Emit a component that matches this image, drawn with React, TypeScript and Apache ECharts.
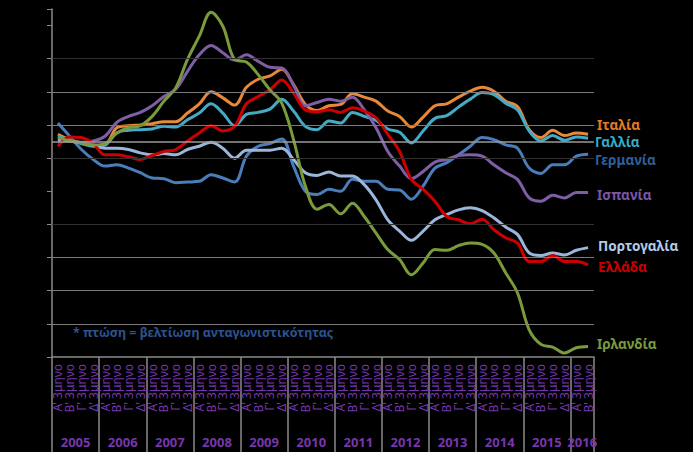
import React, { useEffect, useRef } from "react";
import * as echarts from "echarts";

const quarterNames = ["Α' 3μηνο", "Β' 3μηνο", "Γ' 3μηνο", "Δ' 3μηνο"];
const years = ["2005", "2006", "2007", "2008", "2009", "2010", "2011", "2012", "2013", "2014", "2015", "2016"];
const quartersPerYear = [4, 4, 4, 4, 4, 4, 4, 4, 4, 4, 4, 2];

const italy = [101.1, 100.3, 99.8, 99.4, 99.5, 102.1, 102.4, 102.5, 102.7, 103.0, 103.0, 104.3, 105.7, 107.5, 106.6, 105.5, 108.2, 109.4, 109.9, 110.9, 108.6, 105.6, 104.7, 105.4, 105.6, 107.2, 106.7, 106.1, 104.6, 103.8, 102.2, 103.7, 105.4, 105.7, 106.7, 107.6, 108.2, 107.6, 106.1, 105.3, 101.8, 100.6, 101.7, 100.9, 101.3, 101.1];
const france = [100.8, 100.2, 99.7, 99.3, 99.5, 101.3, 101.7, 101.8, 101.9, 102.3, 102.2, 103.3, 104.3, 105.7, 104.3, 102.4, 104.1, 104.4, 104.9, 106.4, 104.6, 102.3, 101.8, 103.1, 102.8, 104.4, 103.8, 103.2, 101.9, 101.4, 99.8, 101.6, 103.5, 103.9, 105.2, 106.4, 107.4, 107.1, 105.8, 104.8, 101.6, 100.1, 100.9, 100.2, 100.7, 100.5];
const germany = [102.8, 100.8, 98.8, 97.3, 96.3, 96.5, 96.0, 95.3, 94.5, 94.4, 93.8, 93.9, 94.0, 95.0, 94.5, 93.9, 97.8, 99.3, 99.7, 100.4, 96.3, 92.5, 92.0, 92.8, 92.5, 94.3, 94.0, 94.0, 92.8, 92.7, 91.3, 93.3, 96.0, 96.8, 98.0, 99.3, 100.6, 100.3, 99.5, 99.0, 96.0, 95.2, 96.5, 96.5, 97.8, 98.1];
const spain = [99.9, 100.1, 99.9, 100.1, 100.8, 102.9, 103.8, 104.4, 105.4, 106.8, 107.9, 110.6, 113.1, 114.5, 113.4, 112.3, 113.1, 112.1, 111.2, 111.1, 108.5, 105.4, 105.9, 106.4, 106.1, 106.7, 104.8, 102.1, 98.5, 96.3, 94.4, 95.5, 96.9, 97.3, 97.9, 98.0, 97.8, 96.5, 95.3, 94.3, 91.5, 91.0, 91.9, 91.5, 92.3, 92.3];
const portugal = [100.3, 100.1, 99.8, 99.4, 99.0, 99.0, 98.8, 98.3, 98.0, 98.2, 98.0, 98.8, 99.3, 99.9, 99.0, 97.5, 98.7, 98.7, 98.7, 99.0, 97.3, 95.3, 94.9, 95.4, 94.8, 94.8, 93.5, 91.2, 88.2, 86.5, 85.1, 86.5, 88.2, 89.0, 89.7, 90.0, 89.6, 88.5, 87.1, 86.0, 83.2, 82.8, 83.2, 82.9, 83.6, 84.0];
const greece = [99.3, 100.7, 100.6, 99.7, 98.0, 98.0, 97.7, 97.3, 97.9, 98.5, 98.8, 100.1, 101.3, 102.4, 101.6, 102.3, 105.7, 106.8, 107.8, 109.3, 107.3, 104.8, 104.5, 104.8, 104.4, 105.1, 104.6, 103.6, 101.1, 98.5, 94.3, 92.8, 91.0, 88.7, 88.2, 87.6, 88.3, 86.7, 85.5, 84.7, 81.9, 81.9, 82.8, 81.9, 81.9, 81.4];
const ireland = [100.6, 100.1, 99.8, 99.5, 99.7, 101.3, 102.1, 102.4, 103.8, 106.1, 108.1, 112.4, 115.9, 119.5, 117.4, 112.4, 112.0, 110.1, 107.8, 105.8, 100.3, 93.3, 89.8, 90.5, 89.1, 90.7, 88.7, 86.2, 83.7, 82.2, 79.9, 81.7, 83.7, 83.6, 84.3, 84.7, 84.5, 83.2, 80.2, 77.2, 71.6, 69.4, 69.0, 68.1, 68.9, 69.1];

const brightGrid = [72.5, 77.5, 82.5, 102.5, 107.5];
const dimGrid = [87.5, 97.5, 112.5];
const baseLine = 100;

const note = "* πτώση = βελτίωση ανταγωνιστικότητας";

const countries = [
  { name: "Ιταλία", data: italy, color: "#e8893a", labelColor: "#e47a26", offset: [1, -9] },
  { name: "Γαλλία", data: france, color: "#45aac4", labelColor: "#35aac6", offset: [-1, 4] },
  { name: "Γερμανία", data: germany, color: "#4a7ebb", labelColor: "#2f5f9a", offset: [-1, 6] },
  { name: "Ισπανία", data: spain, color: "#7e5fa6", labelColor: "#7a55a8", offset: [1, 2] },
  { name: "Πορτογαλία", data: portugal, color: "#9ab6da", labelColor: "#b3cbe8", offset: [2, -2] },
  { name: "Ελλάδα", data: greece, color: "#cc0000", labelColor: "#c80000", offset: [2, 2] },
  { name: "Ιρλανδία", data: ireland, color: "#7a9a3c", labelColor: "#7a9a3c", offset: [1, -2] },
];

const categories: string[] = [];
const yearCenters: Record<number, string> = {};
{
  let pos = 0;
  years.forEach((y, yi) => {
    const n = quartersPerYear[yi];
    yearCenters[pos + n / 2] = y;
    for (let q = 0; q < n; q++) categories.push(y + "|" + quarterNames[q]);
    pos += n;
  });
}
const totalQuarters = categories.length;

const FONT = "'Noto Sans', 'DejaVu Sans', sans-serif";
const PURPLE = "#7636ad";

export default function App() {
  const ref = useRef<HTMLDivElement>(null);
  useEffect(() => {
    if (!ref.current) return;
    const chart = echarts.init(ref.current, null, { renderer: "svg" });
    const gridLineData = [
      ...brightGrid.map((v) => ({ yAxis: v, lineStyle: { color: "#7a7a7a", width: 1, type: "solid" } })),
      ...dimGrid.map((v) => ({ yAxis: v, lineStyle: { color: "#303030", width: 1, type: "solid" } })),
      { yAxis: baseLine, lineStyle: { color: "#9a9a9a", width: 1.5, type: "solid" } },
    ];
    chart.setOption({
      animation: false,
      backgroundColor: "#000000",
      textStyle: { fontFamily: FONT },
      title: {
        text: note,
        left: 68,
        top: 321,
        textStyle: { color: "#2b5391", fontSize: 12.5, fontWeight: "bold", fontFamily: FONT },
      },
      grid: { left: 52, right: 99, top: 9, bottom: 95, containLabel: false },
      xAxis: [
        {
          type: "category",
          data: categories,
          boundaryGap: true,
          axisLine: { show: true, lineStyle: { color: "#8a8a8a", width: 1.5 } },
          axisTick: {
            show: true,
            interval: (i: number) => i % 4 === 0,
            length: 95,
            lineStyle: { color: "#8a8a8a", width: 1.5 },
          },
          splitLine: { show: false },
          axisLabel: {
            interval: 0,
            rotate: 90,
            margin: 7,
            color: PURPLE,
            fontSize: 12,
            fontFamily: FONT,
            formatter: (v: string) => v.split("|")[1],
          },
        },
        {
          type: "value",
          min: 0,
          max: totalQuarters,
          interval: 1,
          position: "bottom",
          axisLine: { show: false },
          axisTick: { show: false },
          splitLine: { show: false },
          axisLabel: {
            margin: 78,
            color: PURPLE,
            fontSize: 13,
            fontWeight: "bold",
            fontFamily: FONT,
            showMinLabel: true,
            showMaxLabel: true,
            formatter: (v: number) => yearCenters[v] || "",
          },
        },
      ],
      yAxis: {
        type: "value",
        min: 67.5,
        max: 120,
        interval: 5,
        axisLine: { show: true, lineStyle: { color: "#8a8a8a", width: 1.5 } },
        axisTick: { show: true, length: 5, lineStyle: { color: "#8a8a8a" } },
        axisLabel: { show: false },
        splitLine: { show: false },
      },
      series: [
        {
          type: "line",
          name: "grid",
          data: [],
          z: 1,
          silent: true,
          markLine: {
            silent: true,
            symbol: "none",
            label: { show: false },
            animation: false,
            data: gridLineData,
          },
        },
        ...countries.map((c) => ({
          type: "line",
          name: c.name,
          data: c.data,
          z: 3,
          smooth: 0.35,
          showSymbol: false,
          symbol: "none",
          lineStyle: { color: c.color, width: 3 },
          itemStyle: { color: c.color },
          endLabel: {
            show: true,
            formatter: "{a}",
            color: c.labelColor,
            fontSize: 13.5,
            lineHeight: 14,
            fontWeight: "bold",
            fontFamily: FONT,
            offset: c.offset,
          },
        })),
      ],
    });
    return () => chart.dispose();
  }, []);
  return (
    <div
      ref={ref}
      style={{ position: "fixed", left: 0, top: 0, width: 693, height: 452, background: "#000" }}
    />
  );
}
